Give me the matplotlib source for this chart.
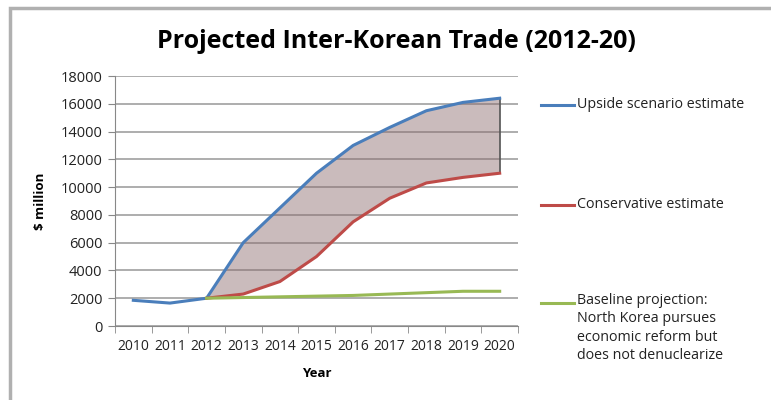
import numpy as np
import matplotlib.pyplot as plt
from matplotlib.lines import Line2D
from matplotlib.patches import Rectangle

years = ['2010', '2011', '2012', '2013', '2014', '2015', '2016', '2017', '2018', '2019', '2020']
upside = [1850, 1650, 2000, 6000, 8500, 11000, 13000, 14300, 15500, 16100, 16400]
conservative = [np.nan, np.nan, 2000, 2300, 3200, 5000, 7500, 9200, 10300, 10700, 11000]
baseline = [np.nan, np.nan, 2000, 2050, 2100, 2150, 2200, 2300, 2400, 2500, 2500]

labels = ['Upside scenario estimate', 'Conservative estimate',
          'Baseline projection:\nNorth Korea pursues\neconomic reform but\ndoes not denuclearize']
colors = ['#4a7ebb', '#be4b48', '#98b954']

plt.rcParams['font.family'] = ['Open Sans', 'DejaVu Sans']

fig = plt.figure(figsize=(7.71, 4.0), dpi=100)
# chart frame, left and top edges only
fig.patches.append(Rectangle((10/771, -0.1), 1.2, 1.08, transform=fig.transFigure,
                             fill=False, edgecolor='#b0b0b0', linewidth=2.5))
ax = fig.add_axes([115/771, 1 - 326/400, 403/771, 250/400])

x = np.arange(len(years))
up = np.array(upside, dtype=float)
cons = np.array(conservative, dtype=float)
base = np.array(baseline, dtype=float)

# shaded band between the two estimates
m = ~np.isnan(cons)
ax.fill_between(x[m], cons[m], up[m], color='#8a6a6c', alpha=0.45, linewidth=0, zorder=2)
ax.vlines(x[-1], cons[-1], up[-1], color='#555555', linewidth=1.2, zorder=3)

ax.plot(x, up, color=colors[0], linewidth=2.2, zorder=4)
ax.plot(x, cons, color=colors[1], linewidth=2.2, zorder=4)
ax.plot(x, base, color=colors[2], linewidth=2.2, zorder=5)

ax.set_xlim(-0.5, len(years) - 0.5)
ax.set_ylim(0, 18000)
ax.set_yticks(np.arange(0, 18001, 2000))
ax.set_xticks(x)
ax.set_xticklabels(years, fontsize=10)
ax.set_xticks(np.arange(-0.5, len(years), 1), minor=True)
ax.tick_params(axis='x', which='major', length=0, pad=9, labelcolor='#222222')
ax.tick_params(axis='x', which='minor', length=5, color='#888888', direction='out')
ax.tick_params(axis='y', length=5, color='#888888', labelsize=10.5, pad=4, labelcolor='#222222')
ax.grid(axis='y', color='#a0a0a0', linewidth=1.2, zorder=1)
ax.set_axisbelow(True)
for s in ['top', 'right']:
    ax.spines[s].set_visible(False)
for s in ['left', 'bottom']:
    ax.spines[s].set_color('#888888')

ax.set_xlabel('Year', fontsize=9.5, fontweight='bold', labelpad=10)
ax.set_ylabel('$ million', fontsize=9.5, fontweight='bold', labelpad=10)

fig.text(396/771, 1 - 42/400, 'Projected Inter-Korean Trade (2012-20)', ha='center', va='center',
         fontsize=18, fontweight='bold')

# legend on the right
leg_y = [105, 205, 303]
for c, lab, yy in zip(colors, labels, leg_y):
    fig.add_artist(Line2D([541/771, 574/771], [1 - yy/400] * 2, color=c, linewidth=2.2,
                          transform=fig.transFigure))
    if '\n' in lab:
        fig.text(577/771, 1 - (yy - 10)/400, lab, ha='left', va='top', fontsize=10.3,
                 linespacing=1.3, color='#222222')
    else:
        fig.text(577/771, 1 - yy/400, lab, ha='left', va='center', fontsize=10.3, color='#222222')

fig.savefig('out.png', dpi=100)
